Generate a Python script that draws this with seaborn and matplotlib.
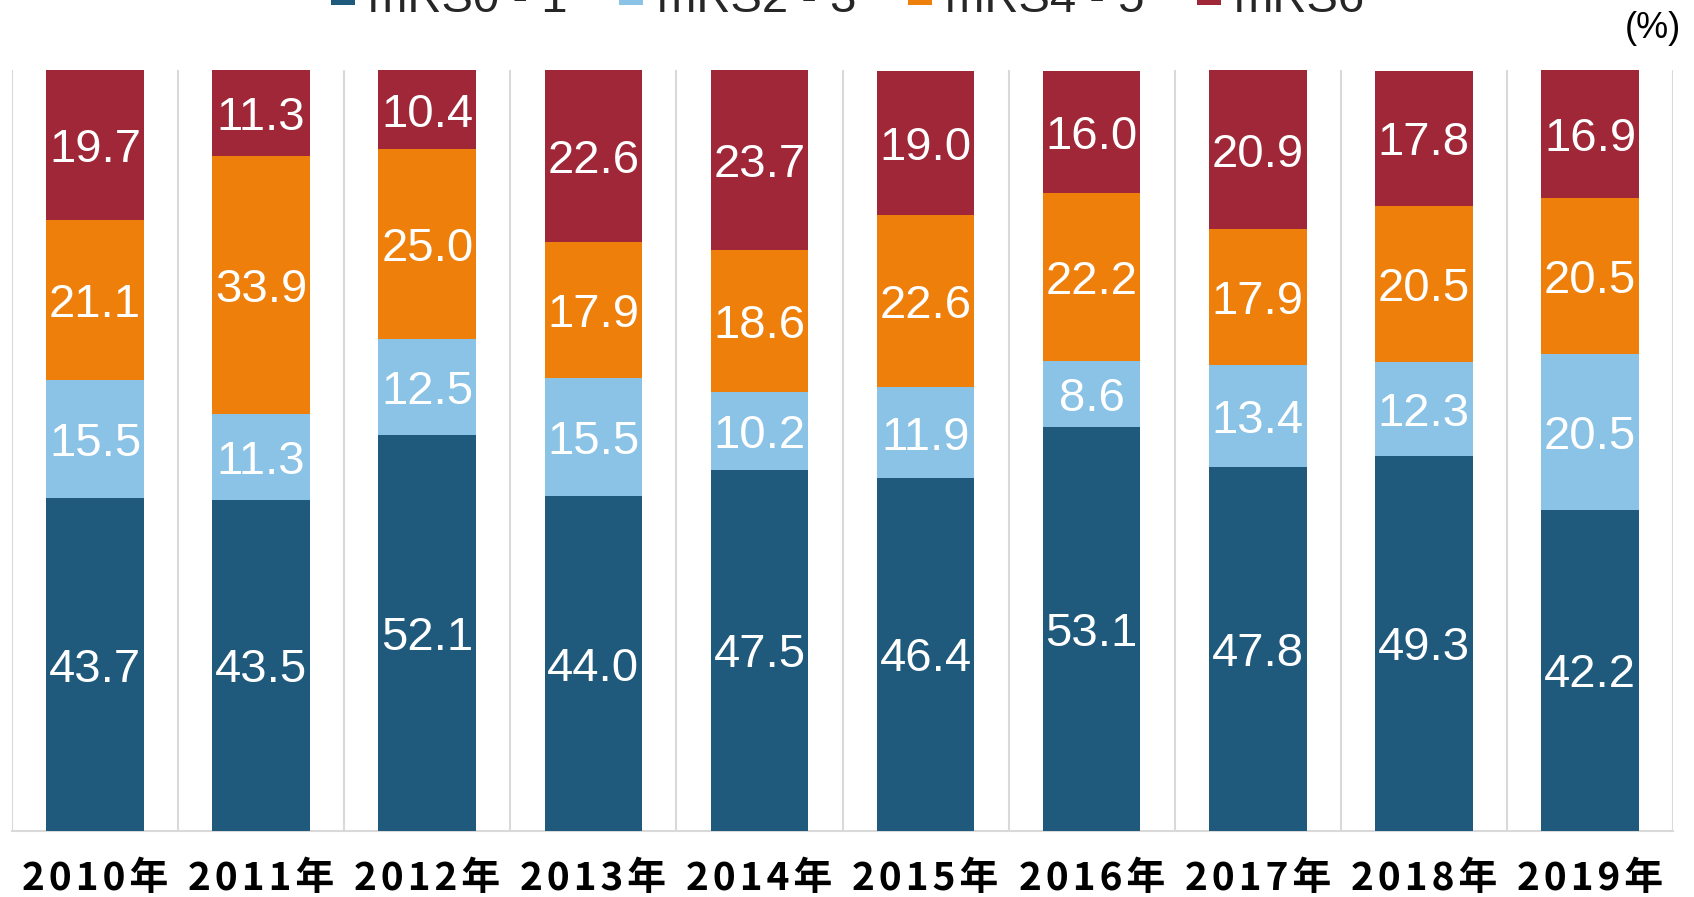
import numpy as np
import pandas as pd
import matplotlib
matplotlib.use("Agg")
import matplotlib.pyplot as plt
import seaborn as sns
from matplotlib.patches import Patch

# ---- data ----
years = ["2010年", "2011年", "2012年", "2013年", "2014年", "2015年", "2016年", "2017年", "2018年", "2019年"]
series_names = ["mRS0 - 1", "mRS2 - 3", "mRS4 - 5", "mRS6"]
mrs01 = [43.7, 43.5, 52.1, 44.0, 47.5, 46.4, 53.1, 47.8, 49.3, 42.2]
mrs23 = [15.5, 11.3, 12.5, 15.5, 10.2, 11.9, 8.6, 13.4, 12.3, 20.5]
mrs45 = [21.1, 33.9, 25.0, 17.9, 18.6, 22.6, 22.2, 17.9, 20.5, 20.5]
mrs6 = [19.7, 11.3, 10.4, 22.6, 23.7, 19.0, 16.0, 20.9, 17.8, 16.9]
unit_label = "(%)"

colors = ["#1F5A7D", "#8AC3E5", "#EF7F0B", "#A02737"]

sns.set_theme(style="white")
plt.rcParams["font.family"] = ["Liberation Sans", "Noto Sans CJK JP", "DejaVu Sans"]

W, H = 1694, 897
fig = plt.figure(figsize=(W / 100, H / 100), dpi=100)
ax = fig.add_axes([12 / W, (H - 831) / H, (1673 - 12) / W, (831 - 70) / H])

layers = [mrs01, mrs23, mrs45, mrs6]
cum = np.cumsum(np.array(layers), axis=0)

for i in reversed(range(len(layers))):
    df = pd.DataFrame({"year": years, "value": cum[i]})
    sns.barplot(data=df, x="year", y="value", order=years, color=colors[i],
                saturation=1, width=0.587, errorbar=None, ax=ax, zorder=3,
                linewidth=0)

for i, layer in enumerate(layers):
    for j, v in enumerate(layer):
        ax.text(j, cum[i][j] - v / 2, f"{v:.1f}", ha="center", va="center_baseline",
                color="white", fontsize=34, family=["Liberation Sans"], zorder=5)

ax.set_ylim(0, 100)
ax.set_xlim(-0.5, len(years) - 0.5)
ax.set_yticks([])
ax.set_xlabel("")
ax.set_ylabel("")
spaced = ["\u200a".join(list(y)) for y in years]
ax.set_xticks(range(len(years)))
ax.set_xticklabels(spaced, fontsize=28, fontweight="bold",
                   family=["Noto Sans CJK JP", "DejaVu Sans"], color="black")
ax.tick_params(axis="x", length=0, pad=20)
ax.set_xticks(np.arange(-0.5, len(years), 1.0), minor=True)
ax.tick_params(axis="x", which="minor", length=0)
ax.grid(axis="x", which="minor", color="#D9D9D9", linewidth=1.5, zorder=0)
ax.grid(axis="x", which="major", visible=False)
ax.grid(axis="y", visible=False)
for s in ["top", "right", "left"]:
    ax.spines[s].set_visible(False)
ax.spines["bottom"].set_color("#D9D9D9")
ax.spines["bottom"].set_linewidth(1.5)

fig.text(1681 / W, 1 - 28 / H, unit_label, ha="right", va="center", fontsize=26, color="black")

handles = [Patch(facecolor=c, edgecolor="none") for c in colors]
fig.legend(handles, series_names, loc="lower center", bbox_to_anchor=(848 / W, 1 - 22 / H),
           ncol=4, frameon=False, fontsize=34, borderpad=0, borderaxespad=0,
           handlelength=0.51, handleheight=0.3, handletextpad=0.28, columnspacing=1.1)

fig.savefig("out.png", dpi=100)
